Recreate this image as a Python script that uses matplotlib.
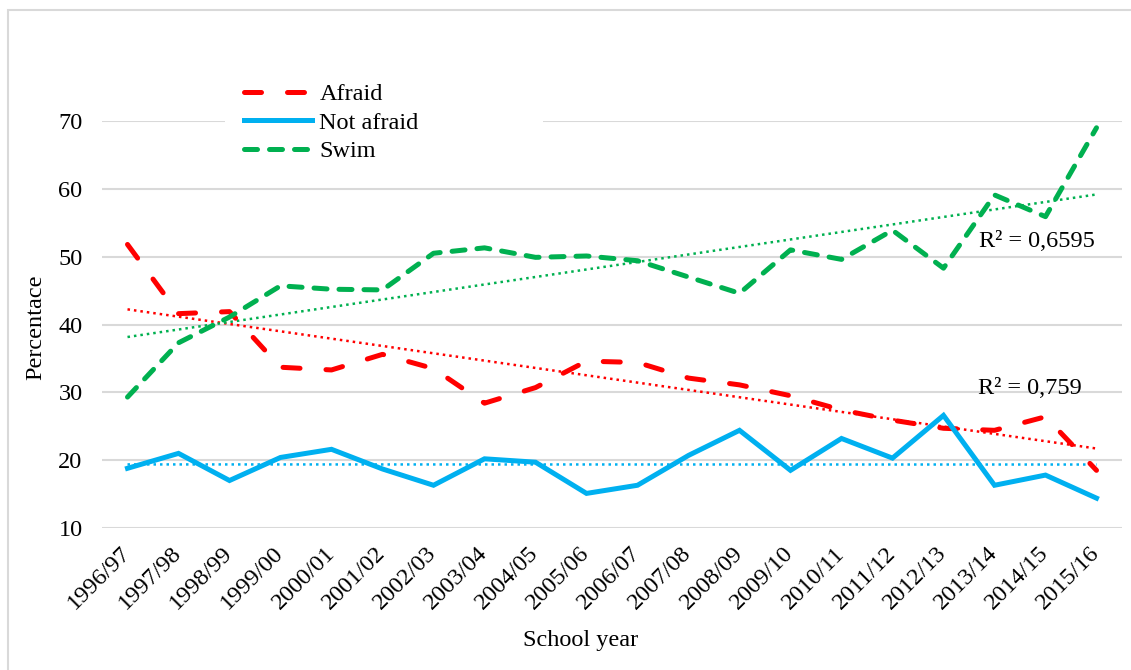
import numpy as np
import matplotlib
matplotlib.use("Agg")
import matplotlib.pyplot as plt
from matplotlib.patches import Rectangle

plt.rcParams['font.family'] = ['Liberation Serif', 'DejaVu Serif']

years = ["1996/97", "1997/98", "1998/99", "1999/00", "2000/01", "2001/02", "2002/03",
         "2003/04", "2004/05", "2005/06", "2006/07", "2007/08", "2008/09", "2009/10",
         "2010/11", "2011/12", "2012/13", "2013/14", "2014/15", "2015/16"]
afraid = [51.8, 41.6, 41.9, 33.7, 33.3, 35.6, 33.5, 28.4, 30.7, 34.6, 34.4, 32.1, 31.1, 29.5,
          27.4, 25.9, 24.7, 24.4, 26.4, 18.5]
not_afraid = [18.8, 21.0, 17.0, 20.4, 21.6, 18.7, 16.3, 20.2, 19.7, 15.1, 16.3, 20.7, 24.4, 18.5,
              23.2, 20.3, 26.6, 16.3, 17.8, 14.4]
swim = [29.3, 37.3, 41.1, 45.7, 45.2, 45.1, 50.5, 51.3, 49.9, 50.1, 49.4, 47.0, 44.6, 51.0,
        49.6, 53.9, 48.3, 59.1, 55.9, 69.0]
r2_swim = "R² = 0,6595"
r2_afraid = "R² = 0,759"

RED = "#FF0000"
BLUE = "#00B0F0"
GREEN = "#00B050"
GRID = "#D9D9D9"

W, H = 1131, 670
fig = plt.figure(figsize=(W / 100, H / 100), dpi=100)
# outer chart frame
fig.patches.append(Rectangle((8 / W, -0.05), 1.1, 1 - 10 / H + 0.05, transform=fig.transFigure,
                             fill=False, edgecolor=GRID, linewidth=1.5))

ax = fig.add_axes([102 / W, 1 - 528 / H, 1020 / W, 407 / H])
x = np.arange(len(years))

ax.set_xlim(-0.5, len(years) - 0.5)
ax.set_ylim(10, 70)
ax.set_yticks(np.arange(10, 71, 10))
ax.yaxis.grid(True, color=GRID, linewidth=1.5, zorder=0)
ax.set_axisbelow(True)
for s in ax.spines.values():
    s.set_visible(False)

lw = 3.6
la, = ax.plot(x, afraid, color=RED, lw=lw, dashes=(3.4, 5.2), dash_capstyle='round',
              solid_capstyle='round', zorder=3, label="Afraid")
lb, = ax.plot(x, not_afraid, color=BLUE, lw=lw, solid_joinstyle='miter', zorder=3,
              label="Not afraid")
lc, = ax.plot(x, swim, color=GREEN, lw=lw, dashes=(2.6, 2.4), dash_capstyle='round',
              zorder=3, label="Swim")

# linear trendlines
for series, col in ((afraid, RED), (not_afraid, BLUE), (swim, GREEN)):
    k, b = np.polyfit(x, series, 1)
    ax.plot(x, k * x + b, color=col, lw=1.8, linestyle=(0, (1, 1.6)), zorder=2)

ax.text(16.7, 52.3, r2_swim, fontsize=17.5, va='center', ha='left', zorder=4)
ax.text(16.67, 30.5, r2_afraid, fontsize=17.5, va='center', ha='left', zorder=4)

ax.set_xticks(x)
ax.set_xticklabels(years, rotation=45, ha='right', va='center', rotation_mode='anchor',
                   fontsize=17.5)
ax.tick_params(axis='x', length=0, pad=16)
ax.tick_params(axis='y', length=0, pad=14, labelsize=17.5)

ax.set_ylabel("Percentace", fontsize=17.5)
ax.yaxis.set_label_coords(-0.055, 0.494)
ax.set_xlabel("School year", fontsize=17.5)
ax.xaxis.set_label_coords(0.469, -0.25)

# white legend background
ax.add_patch(Rectangle((225 / W, 1 - 170 / H), (543 - 225) / W, 95 / H, transform=fig.transFigure,
                       facecolor='white', edgecolor='none', zorder=1.5, clip_on=False))
fig.legend(handles=[la, lb, lc], loc='upper left', bbox_to_anchor=(244 / W, 1 - 83 / H),
           frameon=False, fontsize=17.5, handlelength=2.8, handletextpad=0.3,
           labelspacing=0.27, borderpad=0, borderaxespad=0)

fig.savefig("out.png", dpi=100)
